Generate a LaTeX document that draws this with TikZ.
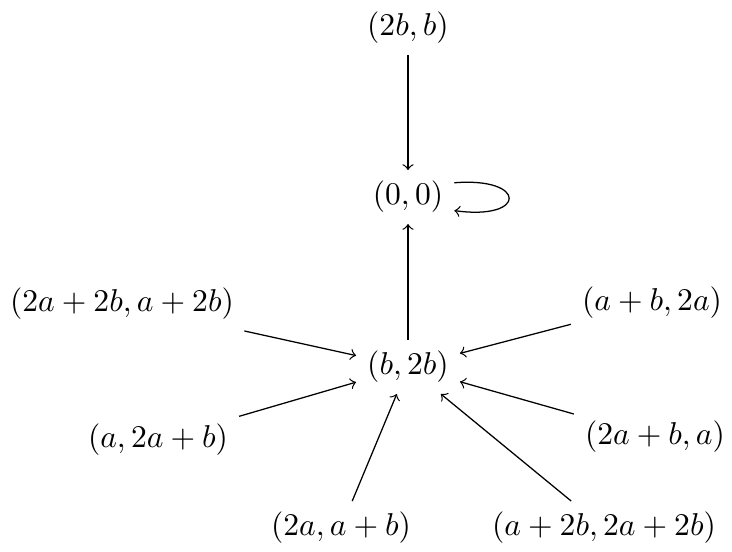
\documentclass[tikz,border=0pt]{standalone}
\usetikzlibrary{arrows}
\begin{document}
\begin{tikzpicture}[x=0.3165pt,y=-0.3165pt,
  st/.style={inner sep=3.333pt},
  arr/.style={->}]
\useasboundingbox (0,0) rectangle (732,551);
\node[st] (t)  at (408,28)  {$(2b,b)$};
\node[st] (z)  at (408,197) {$(0,0)$};
\node[st] (c)  at (408,367) {$(b,2b)$};
\node[st] (ul) at (122,304) {$(2a+2b,a+2b)$};
\node[st] (ur) at (652,303) {$(a+b,2a)$};
\node[st] (ml) at (158,440) {$(a,2a+b)$};
\node[st] (mr) at (655,437) {$(2a+b,a)$};
\node[st] (bl) at (341,528) {$(2a,a+b)$};
\node[st] (br) at (604,528) {$(a+2b,2a+2b)$};
\draw[arr] (t) -- (z);
\draw[arr] (c) -- (z);
\draw[arr] ([yshift=4.5pt]z.east) .. controls +(73,-6) and +(73,10) .. ([yshift=-4.3pt]z.east);
\draw[arr] (ul) -- (c);
\draw[arr] (ur) -- (c);
\draw[arr] (ml) -- (c);
\draw[arr] (mr) -- (c);
\draw[arr] (bl) -- (c);
\draw[arr] (br) -- (c);
\end{tikzpicture}
\end{document}
